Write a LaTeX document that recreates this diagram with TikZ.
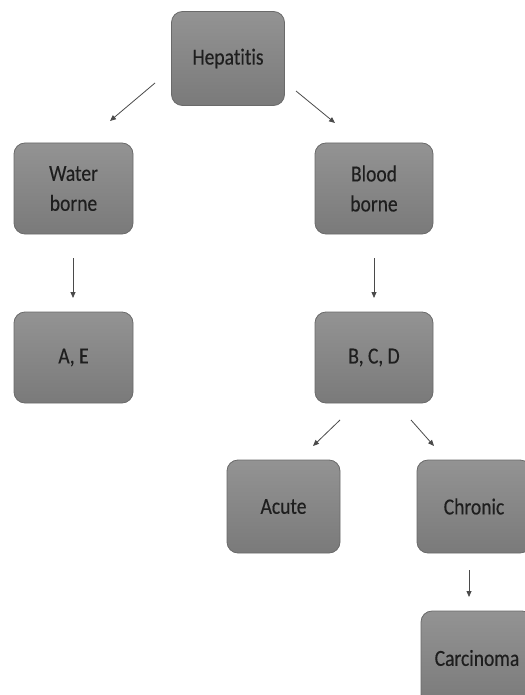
\documentclass[tikz,border=0pt]{standalone}
\usepackage{fontspec}
\setmainfont{Carlito}[FakeStretch=0.85,Ligatures={NoCommon},FakeBold=0.3]
\usetikzlibrary{arrows.meta}
\definecolor{boxtop}{HTML}{939393}
\definecolor{boxbot}{HTML}{7A7A7A}
\definecolor{boxline}{HTML}{6A6A6A}
\definecolor{txt}{HTML}{1E1E1E}
\definecolor{arr}{HTML}{4A4A4A}
\tikzset{
  box/.style={rectangle, rounded corners=11pt, draw=boxline, line width=0.8pt,
    top color=boxtop, bottom color=boxbot, inner sep=0pt, align=center,
    text=txt, font=\fontsize{23}{30}\selectfont},
  link/.style={draw=arr, line width=0.8pt, -{Triangle[length=6pt,width=5pt]}}
}
\begin{document}
\begin{tikzpicture}[x=1pt,y=-1pt]
\useasboundingbox (0,0) rectangle (524,695);
\node[box, minimum width=113pt, minimum height=94pt] (hep) at (228,58.5) {Hepatitis};
\node[box, minimum width=119pt, minimum height=91pt] (water) at (73.5,188.5) {Water\\borne};
\node[box, minimum width=119pt, minimum height=91pt] (ae) at (73.5,357.5) {A, E};
\node[box, minimum width=118pt, minimum height=91pt] (blood) at (374,188.5) {Blood\\borne};
\node[box, minimum width=118pt, minimum height=91pt] (bcd) at (374,357.5) {B, C, D};
\node[box, minimum width=113pt, minimum height=93pt] (acute) at (283.5,506.5) {Acute};
\node[box, minimum width=114pt, minimum height=93pt] (chronic) at (474,506.5) {Chronic};
\node[box, minimum width=112pt, minimum height=94pt] (carc) at (477,658) {Carcinoma};
\coordinate (h1s) at (155,83); \coordinate (h1e) at (110,121);
\coordinate (h2s) at (296,91); \coordinate (h2e) at (335,123);
\coordinate (w1s) at (73,258); \coordinate (w1e) at (73,298);
\coordinate (b1s) at (374,258); \coordinate (b1e) at (374,298);
\coordinate (c1s) at (340,420); \coordinate (c1e) at (313,446);
\coordinate (c2s) at (411,420); \coordinate (c2e) at (434,446);
\coordinate (k1s) at (469,570); \coordinate (k1e) at (469,597);
\draw[link] (h1s) -- (h1e);
\draw[link] (h2s) -- (h2e);
\draw[link] (w1s) -- (w1e);
\draw[link] (b1s) -- (b1e);
\draw[link] (c1s) -- (c1e);
\draw[link] (c2s) -- (c2e);
\draw[link] (k1s) -- (k1e);
\end{tikzpicture}
\end{document}
